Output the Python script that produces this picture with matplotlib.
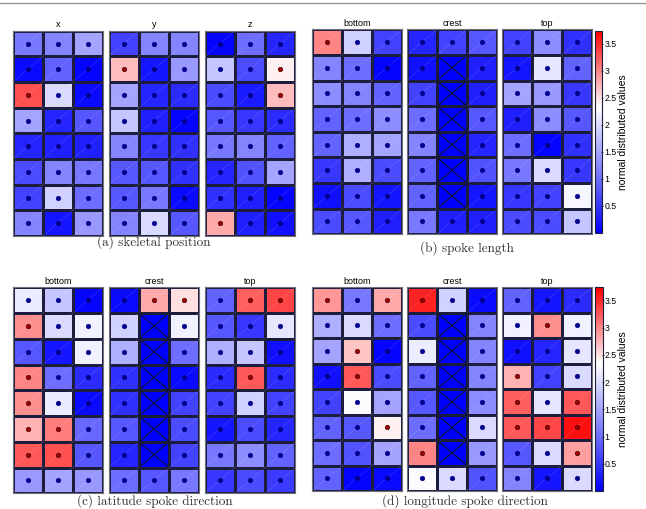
import numpy as np
import matplotlib

matplotlib.use("Agg")
import matplotlib.pyplot as plt
from matplotlib.colors import LinearSegmentedColormap, Normalize
from matplotlib.cm import ScalarMappable

nan = np.nan

# 8 rows x 3 columns per grid, rows listed top to bottom
skel_x = [[1.1, 1.2, 1.5], [0.1, 0.9, 0.05], [3.3, 2.0, 0.1], [1.5, 0.35, 0.8],
          [0.35, 0.3, 0.3], [0.7, 1.2, 1.1], [0.6, 1.9, 1.0], [1.2, 0.2, 1.4]]
skel_y = [[0.6, 1.2, 1.2], [2.7, 0.2, 1.4], [1.5, 0.35, 0.4], [1.8, 0.3, 0.05],
          [1.2, 0.5, 0.45], [0.8, 0.8, 0.45], [0.8, 1.1, 0.1], [1.2, 2.0, 0.8]]
skel_z = [[0.05, 1.0, 0.35], [1.8, 0.7, 2.4], [0.7, 0.25, 2.7], [0.8, 0.5, 0.4],
          [1.1, 1.2, 0.9], [0.35, 0.75, 1.5], [0.45, 0.3, 0.05], [2.8, 0.3, 0.15]]

len_bottom = [[3.0, 1.9, 0.6], [1.2, 1.0, 0.05], [1.3, 1.2, 0.9], [0.9, 1.0, 1.3],
              [0.9, 1.6, 1.5], [0.5, 1.6, 0.7], [0.15, 0.7, 0.2], [0.7, 0.8, 0.3]]
len_crest = [[0.35, 0.6, 0.8], [0.15, nan, 0.3], [0.6, nan, 0.3], [1.0, nan, 0.8],
             [1.2, nan, 0.35], [0.9, nan, 0.75], [0.9, nan, 0.2], [1.1, 0.3, 0.3]]
len_top = [[0.6, 1.3, 0.45], [0.2, 2.1, 0.9], [1.5, 1.4, 0.5], [0.3, 1.3, 0.8],
           [1.0, 0.05, 0.45], [1.1, 2.0, 0.5], [0.5, 0.6, 2.25], [0.7, 0.7, 1.8]]

lat_bottom = [[2.15, 1.8, 0.05], [2.95, 2.0, 2.2], [0.8, 0.2, 2.2], [3.0, 1.0, 0.4],
              [2.95, 2.15, 0.1], [2.75, 3.05, 0.95], [3.25, 3.3, 0.8], [1.4, 1.5, 1.4]]
lat_crest = [[0.1, 2.8, 2.5], [1.9, nan, 2.2], [1.6, nan, 1.0], [0.45, nan, 0.1],
             [0.45, nan, 0.6], [0.8, nan, 0.7], [0.35, nan, 0.6], [1.0, 0.8, 1.1]]
lat_top = [[0.9, 3.2, 3.35], [0.8, 0.5, 2.1], [1.6, 1.8, 0.15], [0.4, 3.25, 0.4],
           [0.6, 1.9, 0.6], [0.2, 0.7, 0.35], [1.1, 1.3, 0.9], [0.5, 0.7, 0.55]]

lon_bottom = [[2.9, 1.1, 2.8], [1.6, 2.0, 1.0], [1.5, 2.65, 0.05], [0.15, 3.25, 0.7],
              [0.6, 2.3, 1.5], [0.9, 0.8, 2.4], [1.0, 0.75, 1.5], [0.9, 0.05, 0.1]]
lon_crest = [[3.55, 1.9, 0.1], [0.7, nan, 1.2], [2.15, nan, 1.2], [0.9, nan, 1.2],
             [0.8, nan, 1.3], [1.0, nan, 2.0], [3.0, nan, 1.4], [2.3, 2.0, 0.75]]
lon_top = [[0.9, 0.2, 0.4], [2.2, 2.95, 2.2], [0.15, 0.35, 2.1], [2.75, 0.6, 2.0],
           [3.2, 2.1, 3.25], [3.25, 3.35, 3.65], [0.8, 2.0, 2.85], [1.2, 0.2, 2.0]]

cbar_ticks = [0.5, 1, 1.5, 2, 2.5, 3, 3.5]
cbar_labels = ["0.5", "1", "1.5", "2", "2.5", "3", "3.5"]

W, H = 646, 509
VMIN, VMAX, WHITE_AT = 0.0, 3.74, 2.33

cmap = LinearSegmentedColormap.from_list(
    "bwr_shift", [(0.0, (0, 0, 1)), (WHITE_AT / VMAX, (1, 1, 1)), (1.0, (1, 0, 0))])
cmap.set_bad((0, 0, 1))
norm = Normalize(VMIN, VMAX)


def px_rect(x0, y0, x1, y1):
    return [x0 / W, 1 - y1 / H, (x1 - x0) / W, (y1 - y0) / H]


def draw_grid(fig, rect, data, title):
    ax = fig.add_axes(px_rect(*rect))
    vals = np.ma.masked_invalid(np.array(data, dtype=float))
    nrow, ncol = vals.shape
    ax.pcolormesh(np.arange(ncol + 1), np.arange(nrow + 1), vals, cmap=cmap, norm=norm,
                  edgecolors="#1c1c3c", linewidth=0.8)
    for i in range(nrow):
        for j in range(ncol):
            # faint triangle seam of the original renderer
            ax.plot([j, j + 1], [i + 1, i], color="white", lw=0.5, alpha=0.15)
            if vals.mask[i, j]:
                ax.plot([j, j + 1], [i, i + 1], color="#101030", lw=0.8)
                ax.plot([j, j + 1], [i + 1, i], color="#101030", lw=0.8)
            else:
                v = vals[i, j]
                c = "#a00000" if v > WHITE_AT else "#00008b"
                ax.plot(j + 0.5, i + 0.5, "o", ms=3.3, color=c, mec="#300000" if v > WHITE_AT else c,
                        mew=0.4)
    ax.set_xlim(0, ncol)
    ax.set_ylim(nrow, 0)
    ax.set_xticks([])
    ax.set_yticks([])
    for s in ax.spines.values():
        s.set_color("#707080")
        s.set_linewidth(0.8)
    ax.set_title(title, fontsize=6.5, family="Liberation Sans", pad=2.5)
    return ax


def draw_cbar(fig, rect):
    cax = fig.add_axes(px_rect(*rect))
    cb = fig.colorbar(ScalarMappable(norm=norm, cmap=cmap), cax=cax, ticks=cbar_ticks)
    cb.ax.set_yticklabels(cbar_labels, fontsize=6.3, family="Liberation Sans")
    cb.ax.tick_params(length=2, width=0.5, pad=0.5, direction="inout")
    cb.outline.set_linewidth(0.8)
    cb.outline.set_edgecolor("#1c1c3c")
    cb.set_label("normal distributed values", fontsize=7.5, family="Liberation Sans", labelpad=1)


fig = plt.figure(figsize=(W / 100, H / 100), dpi=100)

left_cols = [(12.7, 102.7), (108.7, 199.3), (204.7, 295.3)]
right_cols = [(312, 402), (406.7, 497.3), (502, 592)]

panels = [
    (left_cols, (30.7, 236), [skel_x, skel_y, skel_z], ["x", "y", "z"], None),
    (right_cols, (29.3, 234.3), [len_bottom, len_crest, len_top], ["bottom", "crest", "top"],
     (595.3, 31, 602.3, 233)),
    (left_cols, (287.3, 493.3), [lat_bottom, lat_crest, lat_top], ["bottom", "crest", "top"], None),
    (right_cols, (287.3, 491), [lon_bottom, lon_crest, lon_top], ["bottom", "crest", "top"],
     (595.3, 287.3, 602.5, 491)),
]

for cols, (y0, y1), grids, titles, cbar_rect in panels:
    for (x0, x1), grid, title in zip(cols, grids, titles):
        draw_grid(fig, (x0, y0, x1, y1), grid, title)
    if cbar_rect is not None:
        draw_cbar(fig, cbar_rect)

captions = [("(a) skeletal position", 154, 242.5), ("(b) spoke length", 467, 248),
            ("(c) latitude spoke direction", 155, 501), ("(d) longitude spoke direction", 465, 501)]
for text, cx, cy in captions:
    fig.text(cx / W, 1 - cy / H, text, ha="center", va="center", fontsize=9.5,
             family="cmr10", color="#333333")

fig.add_artist(plt.Line2D([0, 1], [1 - 2.5 / H, 1 - 2.5 / H], color="#9a9a9a", lw=1.0))

fig.savefig("out.png", dpi=100)
